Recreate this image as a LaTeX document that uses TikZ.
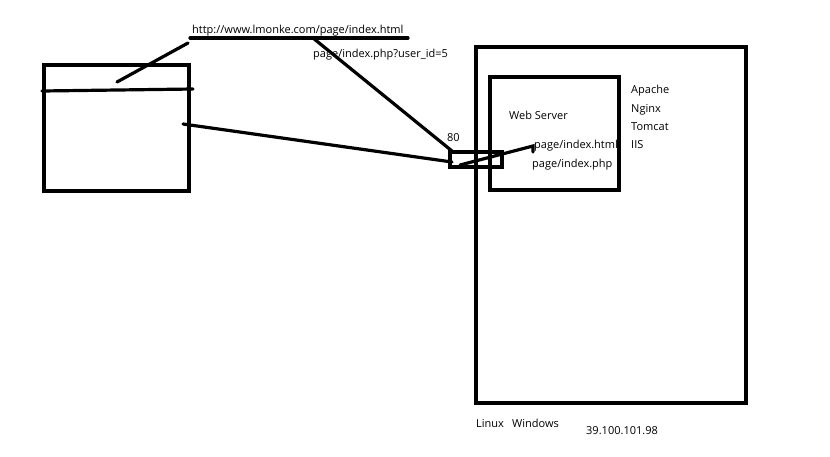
\documentclass[tikz,border=0pt]{standalone}
\usepackage{fontspec}
\setmainfont{Open Sans}
\begin{document}
\begin{tikzpicture}[x=1pt,y=-1pt,
  stroke/.style={line width=3.2pt, line cap=round, line join=miter},
  box/.style={draw, line width=3.2pt, inner sep=0pt, outer sep=0pt, anchor=north west},
  lbl/.style={font=\fontsize{11}{13}\selectfont, inner sep=0pt, anchor=base west, text=black}]
\useasboundingbox[fill=white] (0,0) rectangle (830,456);
% boxes
\node[box, minimum width=145pt, minimum height=126pt] (client) at (44,65) {};
\node[box, minimum width=270pt, minimum height=356pt] (server) at (476,47) {};
\node[box, minimum width=129pt, minimum height=113pt] (web) at (490,77) {};
\node[box, minimum width=52pt, minimum height=15pt] (port) at (450,152) {};
% texts
\node[lbl] (url) at (192,33) {http://www.lmonke.com/page/index.html};
\node[lbl] (php) at (313,57) {page/index.php?user\_id=5};
\node[lbl] (p80) at (447,141) {80};
\node[lbl] (ws) at (509,119) {Web Server};
\node[lbl] (html) at (534,148) {page/index.html};
\node[lbl] (phpf) at (532,167) {page/index.php};
\node[lbl] (apache) at (631,93) {Apache};
\node[lbl] (nginx) at (631,112) {Nginx};
\node[lbl] (tomcat) at (631,130) {Tomcat};
\node[lbl] (iis) at (631,148) {IIS};
\node[lbl] (os) at (476,427) {Linux\hspace{0.75em}Windows};
\node[lbl] (ip) at (586,434) {39.100.101.98};
% free ends
\coordinate (ulA) at (190,38);
\coordinate (ulB) at (408,38);
\coordinate (ulC) at (313,38);
\coordinate (addr) at (117,82);
\coordinate (addrEnd) at (188,43);
\coordinate (barA) at (42,91);
\coordinate (barB) at (193,89);
\coordinate (cl) at (183,124);
\coordinate (portIn) at (452,162);
\coordinate (portTop) at (452,151);
\coordinate (inA) at (460,165);
\coordinate (inB) at (533,146);
\coordinate (inC) at (533,152);
% connectors
\draw[stroke] (ulA) -- (ulB);
\draw[stroke] (addr) -- (addrEnd);
\draw[stroke] (barA) -- (barB);
\draw[stroke] (ulC) -- (portTop);
\draw[stroke] (cl) -- (portIn);
\draw[stroke] (inA) -- (inB) -- (inC);
\end{tikzpicture}
\end{document}
